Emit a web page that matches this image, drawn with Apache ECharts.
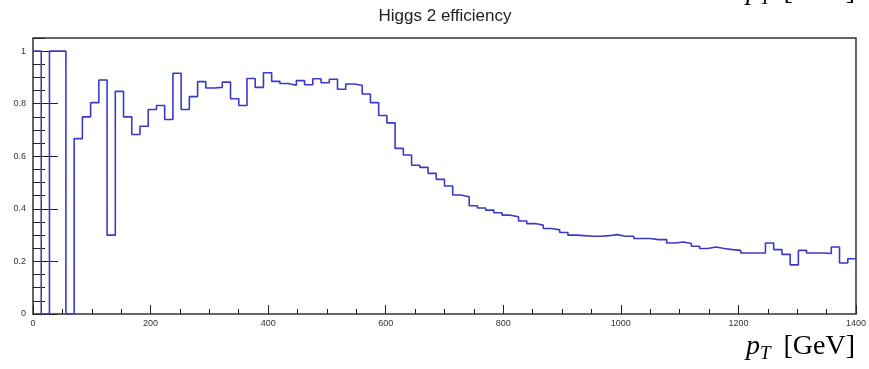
<!DOCTYPE html>
<html>
<head>
<meta charset="utf-8">
<script src="https://cdn.jsdelivr.net/npm/echarts@6/dist/echarts.min.js"></script>
<style>html,body{margin:0;padding:0;background:#fff;}#c{width:869px;height:369px;}</style>
</head>
<body>
<div id="c"></div>
<script>
// Histogram: 100 bins of 14 GeV over 0..1400 GeV
var titleText = "Higgs 2 efficiency";
var xMin = 0, xMax = 1400, binWidth = 14;
var xTickLabels = [0, 200, 400, 600, 800, 1000, 1200, 1400];
var yTickLabels = [0, 0.2, 0.4, 0.6, 0.8, 1];
var efficiency = [
  1, 0, 1, 1, 0, 0.667, 0.750, 0.804, 0.890, 0.300,
  0.847, 0.750, 0.683, 0.714, 0.778, 0.793, 0.740, 0.916, 0.778, 0.827,
  0.884, 0.860, 0.862, 0.882, 0.819, 0.793, 0.896, 0.862, 0.918, 0.885,
  0.877, 0.870, 0.888, 0.872, 0.895, 0.880, 0.893, 0.855, 0.875, 0.870,
  0.837, 0.804, 0.755, 0.727, 0.630, 0.605, 0.566, 0.558, 0.535, 0.512,
  0.487, 0.453, 0.446, 0.412, 0.403, 0.395, 0.385, 0.376, 0.370, 0.354,
  0.344, 0.338, 0.325, 0.320, 0.310, 0.300, 0.298, 0.296, 0.296, 0.298,
  0.302, 0.296, 0.296, 0.287, 0.287, 0.283, 0.283, 0.270, 0.274, 0.268,
  0.258, 0.249, 0.255, 0.249, 0.245, 0.242, 0.232, 0.232, 0.232, 0.270,
  0.245, 0.227, 0.187, 0.242, 0.232, 0.232, 0.230, 0.255, 0.194, 0.210
];

var stepData = [];
for (var i = 0; i < efficiency.length; i++) stepData.push([xMin + i * binWidth, efficiency[i]]);
stepData.push([xMin + efficiency.length * binWidth, efficiency[efficiency.length - 1]]);

var chart = echarts.init(document.getElementById('c'), null, {renderer: 'canvas'});
var labelStyle = {fontFamily: 'Liberation Sans', fontSize: 9, color: '#333'};
var axisTitleRich = {
  p: {fontFamily: 'Liberation Serif', fontStyle: 'italic', fontSize: 28, color: '#222'},
  t: {fontFamily: 'Liberation Serif', fontStyle: 'italic', fontSize: 19, color: '#222', padding: [14, 0, 0, 0]},
  g: {fontFamily: 'Liberation Serif', fontSize: 28, color: '#222', padding: [0, 0, 0, 13]}
};
chart.setOption({
  animation: false,
  backgroundColor: '#fff',
  grid: {left: 33, right: 12, top: 38, bottom: 55, show: true, borderColor: '#333', borderWidth: 1.5, backgroundColor: 'transparent'},
  xAxis: [
    {type: 'value', min: xMin, max: xMax, interval: 200,
     axisLine: {show: false}, splitLine: {show: false},
     axisTick: {show: true, inside: true, length: 9, lineStyle: {color: '#222', width: 1}},
     axisLabel: Object.assign({margin: 5, formatter: function (v) { return xTickLabels.indexOf(v) >= 0 ? String(v) : ''; }}, labelStyle)},
    {type: 'value', min: xMin, max: xMax, interval: 50, position: 'bottom',
     axisLine: {show: false}, splitLine: {show: false}, axisLabel: {show: false},
     axisTick: {show: true, inside: true, length: 5, lineStyle: {color: '#222', width: 1}}}
  ],
  yAxis: [
    {type: 'value', min: 0, max: 1.05, interval: 0.2,
     axisLine: {show: false}, splitLine: {show: false},
     axisTick: {show: true, inside: true, length: 25, lineStyle: {color: '#222', width: 1}},
     axisLabel: Object.assign({margin: 7, showMaxLabel: false, formatter: function (v) {
       var r = Math.round(v * 10) / 10; return yTickLabels.indexOf(r) >= 0 && Math.abs(r - v) < 1e-6 ? String(r) : ''; }}, labelStyle)},
    {type: 'value', min: 0, max: 1.05, interval: 0.05, position: 'left',
     axisLine: {show: false}, splitLine: {show: false}, axisLabel: {show: false},
     axisTick: {show: true, inside: true, length: 12, lineStyle: {color: '#222', width: 1}}}
  ],
  series: [{
    type: 'line', step: 'end', data: stepData, xAxisIndex: 0, yAxisIndex: 0,
    showSymbol: false, symbol: 'none',
    lineStyle: {color: '#3a3ac6', width: 1.6}, z: 5
  }],
  graphic: [
    {type: 'text', x: 445, y: 16, style: {text: titleText, font: '17px "Liberation Sans"', fill: '#222', textAlign: 'center', textVerticalAlign: 'middle'}},
    {type: 'text', right: 14, top: 333, style: {text: '{p|p}{t|T}{g|[GeV]}', rich: axisTitleRich}},
    {type: 'text', right: 14, top: -22, style: {text: '{p|p}{t|T}{g|[GeV]}', rich: axisTitleRich}}
  ]
});
</script>
</body>
</html>
